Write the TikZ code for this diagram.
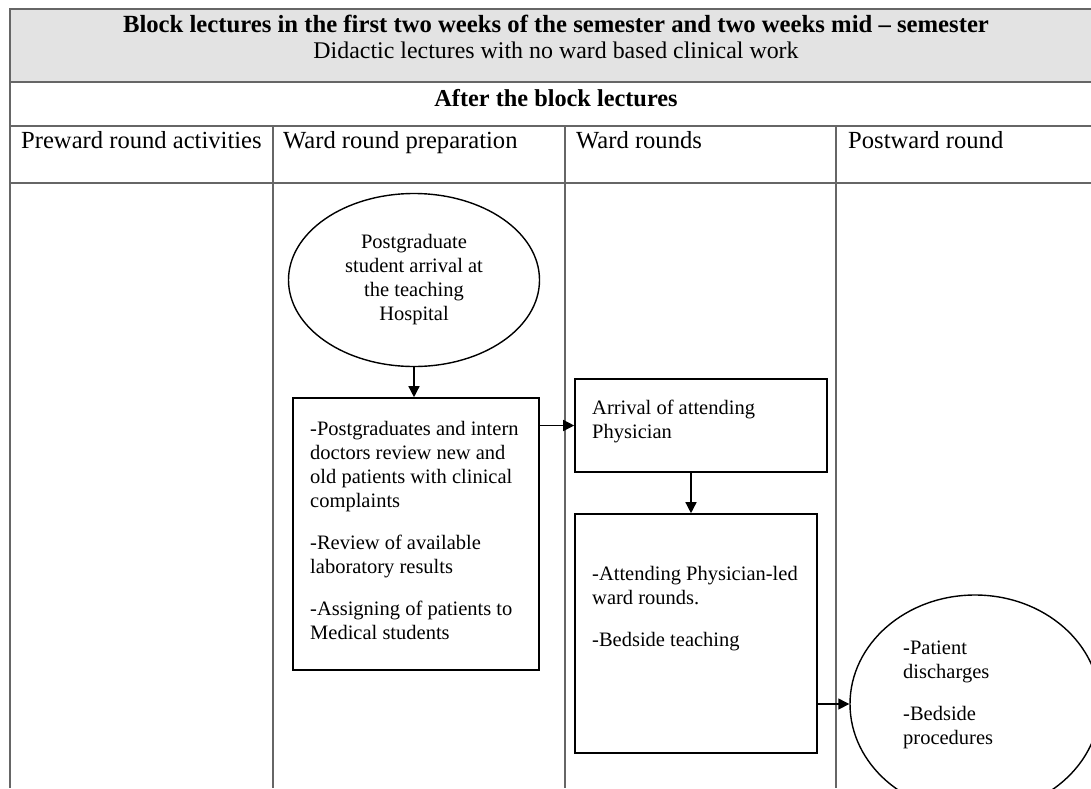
\documentclass[tikz,border=0pt]{standalone}
\usepackage{fontspec}
\setmainfont{Liberation Serif}
\usetikzlibrary{shapes.geometric,arrows.meta}

\begin{document}
\begin{tikzpicture}[x=1pt,y=-1pt,
  grid line/.style={draw=black!60,line width=1.4pt},
  flowbox/.style={draw,line width=1.6pt,rectangle,inner sep=0pt},
  flowell/.style={draw,line width=1.4pt,ellipse,inner sep=0pt},
  boxtext/.style={anchor=north west,align=left,inner sep=0pt,font=\fontsize{20.5}{24}\selectfont},
  headtext/.style={anchor=base,inner sep=0pt,font=\fontsize{23.9}{28}\selectfont},
  colhead/.style={anchor=base west,inner sep=0pt,font=\fontsize{24.6}{28}\selectfont},
  flow/.style={line width=1.4pt,-{Triangle[length=11pt,width=11pt]}}]
  \useasboundingbox (0,0) rectangle (1091,788);
  \clip (0,0) rectangle (1091,788);
  % table
  \fill[black!11] (10,9) rectangle (1102,82);
  \draw[grid line] (1102,9) -- (10,9) -- (10,788);
  \draw[grid line] (10,82) -- (1102,82);
  \draw[grid line] (10,126) -- (1102,126);
  \draw[grid line] (10,183) -- (1102,183);
  \foreach \x in {273,565,836} \draw[grid line] (\x,126) -- (\x,788);
  \node (title)    [headtext,font=\bfseries\fontsize{24.7}{28}\selectfont] at (556,32)
        {Block lectures in the first two weeks of the semester and two weeks mid – semester};
  \node (subtitle) [headtext] at (556,58) {Didactic lectures with no ward based clinical work};
  \node (after)    [headtext,font=\bfseries\fontsize{24.3}{28}\selectfont] at (556,106) {After the block lectures};
  \node (col1) [colhead] at (21,148)  {Preward round activities};
  \node (col2) [colhead] at (283,148) {Ward round preparation};
  \node (col3) [colhead] at (576,148) {Ward rounds};
  \node (col4) [colhead] at (848,148) {Postward round};
  % flow
  \node (arrive) [flowell,minimum width=251pt,minimum height=173pt,align=center,
        font=\fontsize{20.5}{24}\selectfont] at (414,280)
        {Postgraduate\\student arrival at\\the teaching\\Hospital};
  \node (prep)   [flowbox,minimum width=246pt,minimum height=272pt] at (416,534) {};
  \node (attend) [flowbox,minimum width=252pt,minimum height=93pt] at (701,425.5) {};
  \node (rounds) [flowbox,minimum width=242pt,minimum height=239pt] at (696,633.5) {};
  \node (post)   [flowell,minimum width=250pt,minimum height=218pt] at (975,704) {};
  \node (prep text)   [boxtext] at (310,421)
        {-Postgraduates and intern\\doctors review new and\\old patients with clinical\\complaints\\[18pt]
         -Review of available\\laboratory results\\[18pt]
         -Assigning of patients to\\Medical students};
  \node (attend text) [boxtext] at (592,400) {Arrival of attending\\Physician};
  \node (rounds text) [boxtext] at (592,566)
        {-Attending Physician-led\\ward rounds.\\[18pt]-Bedside teaching};
  \node (post text)   [boxtext] at (903,641)
        {-Patient\\discharges\\[18pt]-Bedside\\procedures};
  \draw[flow] (arrive.south) -- (arrive.south |- prep.north);
  \draw[flow] (prep.east |- attend.west) -- (attend.west);
  \draw[flow] ([xshift=-10pt]attend.south) -- ([xshift=-10pt]attend.south |- rounds.north);
  \draw[flow] (rounds.east |- post.west) -- (post.west);
\end{tikzpicture}
\end{document}
